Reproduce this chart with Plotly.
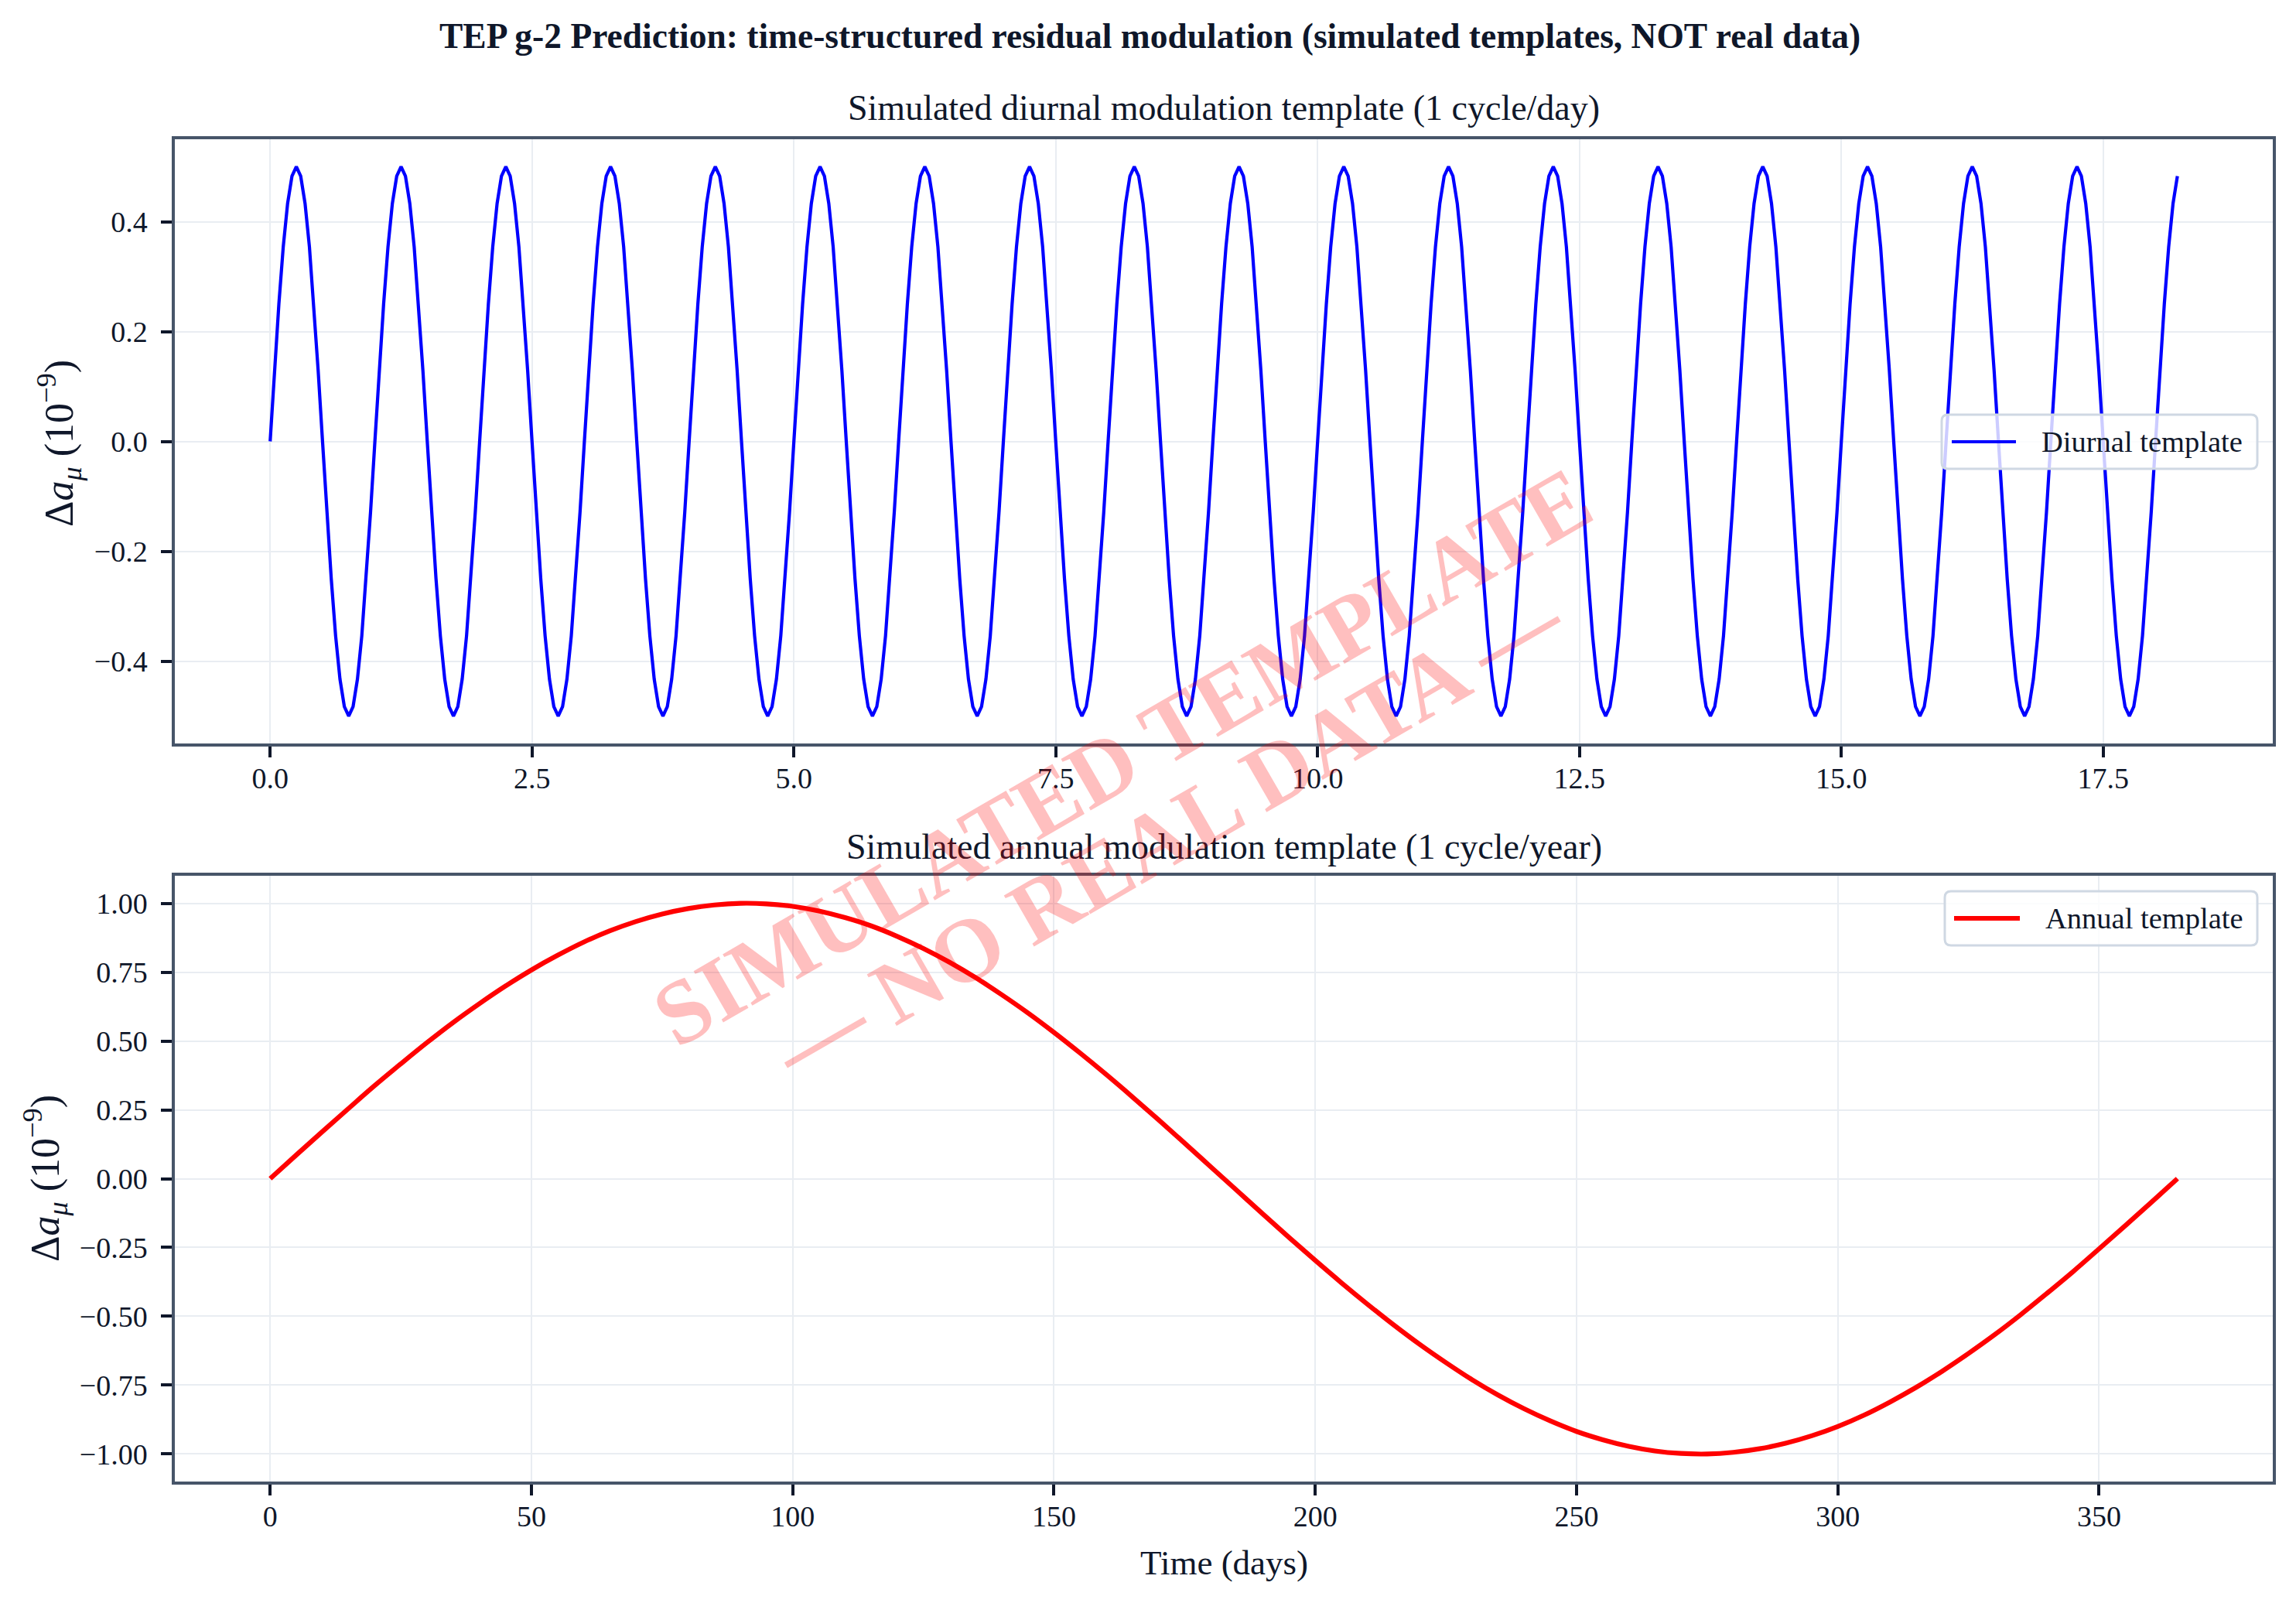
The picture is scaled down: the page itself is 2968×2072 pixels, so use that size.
import plotly.graph_objects as go

# ---------------- data ----------------
# Diurnal template: hourly samples, amplitude 0.5, 1 cycle/day
diurnal_values = [
    0.0, 0.129, 0.25, 0.354, 0.433, 0.483, 0.5, 0.483, 0.433, 0.354, 0.25, 0.129, 0.0, -0.129, -0.25, -0.354, -0.433, -0.483, -0.5, -0.483, -0.433, -0.354, -0.25, -0.129,
    0.0, 0.129, 0.25, 0.354, 0.433, 0.483, 0.5, 0.483, 0.433, 0.354, 0.25, 0.129, 0.0, -0.129, -0.25, -0.354, -0.433, -0.483, -0.5, -0.483, -0.433, -0.354, -0.25, -0.129,
    0.0, 0.129, 0.25, 0.354, 0.433, 0.483, 0.5, 0.483, 0.433, 0.354, 0.25, 0.129, 0.0, -0.129, -0.25, -0.354, -0.433, -0.483, -0.5, -0.483, -0.433, -0.354, -0.25, -0.129,
    0.0, 0.129, 0.25, 0.354, 0.433, 0.483, 0.5, 0.483, 0.433, 0.354, 0.25, 0.129, 0.0, -0.129, -0.25, -0.354, -0.433, -0.483, -0.5, -0.483, -0.433, -0.354, -0.25, -0.129,
    0.0, 0.129, 0.25, 0.354, 0.433, 0.483, 0.5, 0.483, 0.433, 0.354, 0.25, 0.129, 0.0, -0.129, -0.25, -0.354, -0.433, -0.483, -0.5, -0.483, -0.433, -0.354, -0.25, -0.129,
    0.0, 0.129, 0.25, 0.354, 0.433, 0.483, 0.5, 0.483, 0.433, 0.354, 0.25, 0.129, 0.0, -0.129, -0.25, -0.354, -0.433, -0.483, -0.5, -0.483, -0.433, -0.354, -0.25, -0.129,
    0.0, 0.129, 0.25, 0.354, 0.433, 0.483, 0.5, 0.483, 0.433, 0.354, 0.25, 0.129, 0.0, -0.129, -0.25, -0.354, -0.433, -0.483, -0.5, -0.483, -0.433, -0.354, -0.25, -0.129,
    0.0, 0.129, 0.25, 0.354, 0.433, 0.483, 0.5, 0.483, 0.433, 0.354, 0.25, 0.129, 0.0, -0.129, -0.25, -0.354, -0.433, -0.483, -0.5, -0.483, -0.433, -0.354, -0.25, -0.129,
    0.0, 0.129, 0.25, 0.354, 0.433, 0.483, 0.5, 0.483, 0.433, 0.354, 0.25, 0.129, 0.0, -0.129, -0.25, -0.354, -0.433, -0.483, -0.5, -0.483, -0.433, -0.354, -0.25, -0.129,
    0.0, 0.129, 0.25, 0.354, 0.433, 0.483, 0.5, 0.483, 0.433, 0.354, 0.25, 0.129, 0.0, -0.129, -0.25, -0.354, -0.433, -0.483, -0.5, -0.483, -0.433, -0.354, -0.25, -0.129,
    0.0, 0.129, 0.25, 0.354, 0.433, 0.483, 0.5, 0.483, 0.433, 0.354, 0.25, 0.129, 0.0, -0.129, -0.25, -0.354, -0.433, -0.483, -0.5, -0.483, -0.433, -0.354, -0.25, -0.129,
    0.0, 0.129, 0.25, 0.354, 0.433, 0.483, 0.5, 0.483, 0.433, 0.354, 0.25, 0.129, 0.0, -0.129, -0.25, -0.354, -0.433, -0.483, -0.5, -0.483, -0.433, -0.354, -0.25, -0.129,
    0.0, 0.129, 0.25, 0.354, 0.433, 0.483, 0.5, 0.483, 0.433, 0.354, 0.25, 0.129, 0.0, -0.129, -0.25, -0.354, -0.433, -0.483, -0.5, -0.483, -0.433, -0.354, -0.25, -0.129,
    0.0, 0.129, 0.25, 0.354, 0.433, 0.483, 0.5, 0.483, 0.433, 0.354, 0.25, 0.129, 0.0, -0.129, -0.25, -0.354, -0.433, -0.483, -0.5, -0.483, -0.433, -0.354, -0.25, -0.129,
    0.0, 0.129, 0.25, 0.354, 0.433, 0.483, 0.5, 0.483, 0.433, 0.354, 0.25, 0.129, 0.0, -0.129, -0.25, -0.354, -0.433, -0.483, -0.5, -0.483, -0.433, -0.354, -0.25, -0.129,
    0.0, 0.129, 0.25, 0.354, 0.433, 0.483, 0.5, 0.483, 0.433, 0.354, 0.25, 0.129, 0.0, -0.129, -0.25, -0.354, -0.433, -0.483, -0.5, -0.483, -0.433, -0.354, -0.25, -0.129,
    0.0, 0.129, 0.25, 0.354, 0.433, 0.483, 0.5, 0.483, 0.433, 0.354, 0.25, 0.129, 0.0, -0.129, -0.25, -0.354, -0.433, -0.483, -0.5, -0.483, -0.433, -0.354, -0.25, -0.129,
    0.0, 0.129, 0.25, 0.354, 0.433, 0.483, 0.5, 0.483, 0.433, 0.354, 0.25, 0.129, 0.0, -0.129, -0.25, -0.354, -0.433, -0.483, -0.5, -0.483, -0.433, -0.354, -0.25, -0.129,
    0.0, 0.129, 0.25, 0.354, 0.433, 0.483,
]
# sampling grid: one sample per hour, expressed in days
diurnal_time_days = [h / 24 for h in range(len(diurnal_values))]

# Annual template: sampled every 5 days, amplitude 1, 1 cycle/year
annual_time_days = list(range(0, 366, 5))
annual_values = [
    0.000, 0.086, 0.171, 0.255, 0.338, 0.417, 0.494, 0.567, 0.635, 0.699,
    0.758, 0.811, 0.859, 0.900, 0.934, 0.961, 0.981, 0.994, 1.000, 0.998,
    0.989, 0.972, 0.948, 0.918, 0.880, 0.836, 0.786, 0.730, 0.668, 0.602,
    0.531, 0.456, 0.378, 0.297, 0.214, 0.129, 0.043, -0.043, -0.129, -0.214,
    -0.297, -0.378, -0.456, -0.531, -0.602, -0.668, -0.730, -0.786, -0.836, -0.880,
    -0.918, -0.948, -0.972, -0.989, -0.998, -1.000, -0.994, -0.981, -0.961, -0.934,
    -0.900, -0.859, -0.811, -0.758, -0.699, -0.635, -0.567, -0.494, -0.417, -0.338,
    -0.255, -0.171, -0.086, 0.000,
]

top_xticks = [0, 2.5, 5, 7.5, 10, 12.5, 15, 17.5]
top_yticks = [-0.4, -0.2, 0.0, 0.2, 0.4]
bot_xticks = [0, 50, 100, 150, 200, 250, 300, 350]
bot_yticks = [-1.0, -0.75, -0.5, -0.25, 0.0, 0.25, 0.5, 0.75, 1.0]

# ---------------- layout helpers ----------------
W, H = 2968, 2072
FONT = "Liberation Serif"
TXT = "#0f172a"
SPINE = "#475569"
GRID = "#e9edf2"


def X(px):
    return px / W


def Y(py):
    return 1 - py / H


fig = go.Figure()
fig.add_trace(go.Scatter(x=diurnal_time_days, y=diurnal_values, mode="lines",
                         line=dict(color="#0000ff", width=4.2),
                         name="Diurnal template", xaxis="x", yaxis="y",
                         showlegend=False))
fig.add_trace(go.Scatter(x=annual_time_days, y=annual_values, mode="lines",
                         line=dict(color="#ff0000", width=6.2, shape="spline"),
                         name="Annual template", xaxis="x2", yaxis="y2",
                         showlegend=False))

axis_common = dict(
    showline=True, mirror=True, linecolor=SPINE, linewidth=3.5,
    showgrid=True, gridcolor=GRID, gridwidth=2, zeroline=False,
    ticks="outside", ticklen=14, tickwidth=3.5, tickcolor=TXT,
    tickfont=dict(family=FONT, size=38, color=TXT),
)

fig.update_layout(
    width=W, height=H,
    margin=dict(l=0, r=0, t=0, b=0),
    paper_bgcolor="white", plot_bgcolor="white",
    font=dict(family=FONT, color=TXT),
    xaxis=dict(domain=[X(226), X(2938)], anchor="y", range=[-0.910, 19.119],
               tickvals=top_xticks, tickformat=".1f", ticklabelstandoff=-5,
               **axis_common),
    yaxis=dict(domain=[Y(961), Y(180)], anchor="x", range=[-0.55, 0.55],
               tickvals=top_yticks, tickformat=".1f", ticklabelstandoff=10,
               **axis_common),
    xaxis2=dict(domain=[X(226), X(2938)], anchor="y2", range=[-18.25, 383.25],
                tickvals=bot_xticks, tickformat="d", ticklabelstandoff=-5,
                **axis_common),
    yaxis2=dict(domain=[Y(1915), Y(1132)], anchor="x2", range=[-1.1, 1.1],
                tickvals=bot_yticks, tickformat=".2f", ticklabelstandoff=10,
                **axis_common),
)

ann = []


def text(px, py, s, size, angle=0, color=TXT, xanchor="center"):
    ann.append(dict(x=X(px), y=Y(py), xref="paper", yref="paper", text=s,
                    showarrow=False, textangle=angle, xanchor=xanchor,
                    yanchor="middle", font=dict(family=FONT, size=size, color=color)))


text(1487, 47, "<b>TEP g-2 Prediction: time-structured residual modulation (simulated templates, NOT real data)</b>", 45.5)
text(1582, 140, "Simulated diurnal modulation template (1 cycle/day)", 46)
text(1582, 1094, "Simulated annual modulation template (1 cycle/year)", 46)
text(1582, 2020, "Time (days)", 45)
ylab = "Δ<i>a</i><sub><i>μ</i></sub> (10<sup>−9</sup>)"
text(76, 573, ylab, 52, angle=-90)
text(58, 1523, ylab, 52, angle=-90)

# legends (drawn as boxes with sample line + label)
shapes = []


def legend(x0, y0, x1, y1, lx0, lx1, label, color, lw):
    r = 8
    rx, ry = r / W, r / H
    a0, a1 = X(x0), X(x1)
    b0, b1 = Y(y1), Y(y0)  # bottom, top in paper
    path = (f"M {a0+rx},{b0} L {a1-rx},{b0} Q {a1},{b0} {a1},{b0+ry} "
            f"L {a1},{b1-ry} Q {a1},{b1} {a1-rx},{b1} L {a0+rx},{b1} "
            f"Q {a0},{b1} {a0},{b1-ry} L {a0},{b0+ry} Q {a0},{b0} {a0+rx},{b0} Z")
    shapes.append(dict(type="path", path=path, xref="paper", yref="paper",
                       fillcolor="rgba(255,255,255,0.8)",
                       line=dict(color="#cfd8e3", width=3), layer="above"))
    yc = (y0 + y1) / 2
    shapes.append(dict(type="line", xref="paper", yref="paper",
                       x0=X(lx0), x1=X(lx1), y0=Y(yc), y1=Y(yc),
                       line=dict(color=color, width=lw), layer="above"))
    text(lx1 + 31, yc, label, 38.5, xanchor="left")


legend(2510, 536, 2918, 606, 2523, 2606, "Diurnal template", "#0000ff", 4.2)
legend(2514, 1152, 2918, 1222, 2526, 2611, "Annual template", "#ff0000", 6.2)

# watermark
wm_color = "rgba(255,0,0,0.25)"
text(1450, 978, "<b>SIMULATED TEMPLATE</b>", 117, angle=-30, color=wm_color)
text(1510, 1077, "<b>— NO REAL DATA —</b>", 117, angle=-30, color=wm_color)

fig.update_layout(annotations=ann, shapes=shapes)
fig.write_html("out.html")
